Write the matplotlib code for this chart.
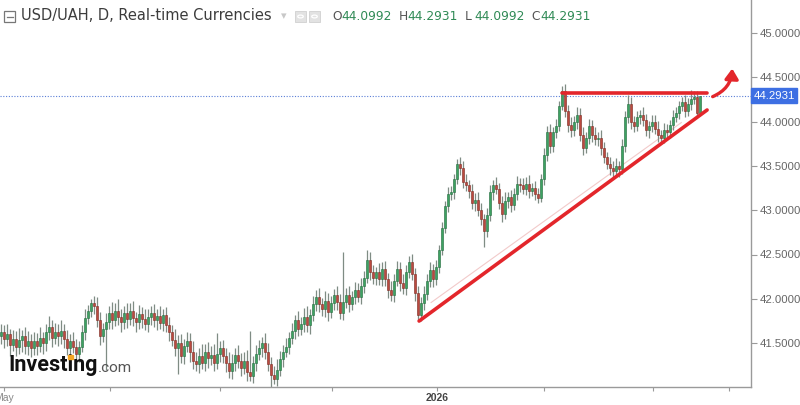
import matplotlib
matplotlib.use("Agg")
import matplotlib.pyplot as plt
from matplotlib.patches import Rectangle, FancyArrowPatch
from matplotlib.transforms import blended_transform_factory
import numpy as np

# ---------------- data ----------------
closes = [
    41.62, 41.55, 41.60, 41.48, 41.55, 41.46, 41.53, 41.58, 41.47, 41.52,
    41.45, 41.52, 41.47, 41.56, 41.50, 41.62, 41.68, 41.56, 41.63, 41.58,
    41.64, 41.55, 41.45, 41.52, 41.46, 41.38, 41.46, 41.62, 41.78, 41.86,
    41.95, 41.92, 41.76, 41.58, 41.66, 41.74, 41.84, 41.76, 41.86, 41.79,
    41.74, 41.84, 41.77, 41.86, 41.78, 41.74, 41.83, 41.77, 41.72, 41.80,
    41.84, 41.76, 41.81, 41.73, 41.82, 41.70, 41.62, 41.54, 41.44, 41.50,
    41.36, 41.47, 41.52, 41.40, 41.30, 41.26, 41.36, 41.28, 41.40, 41.33,
    41.37, 41.28, 41.38, 41.44, 41.36, 41.28, 41.18, 41.28, 41.37, 41.30,
    41.22, 41.30, 41.17, 41.13, 41.28, 41.38, 41.44, 41.50, 41.40, 41.26,
    41.14, 41.10, 41.20, 41.32, 41.40, 41.46, 41.56, 41.64, 41.76, 41.66,
    41.72, 41.80, 41.70, 41.82, 41.94, 42.02, 41.94, 41.88, 41.98, 41.85,
    41.95, 42.04, 41.96, 41.84, 41.96, 42.04, 41.94, 42.02, 42.10, 42.02,
    42.14, 42.24, 42.44, 42.30, 42.24, 42.30, 42.22, 42.34, 42.22, 42.10,
    42.04, 42.20, 42.34, 42.18, 42.12, 42.30, 42.42, 42.28, 42.06, 41.82,
    41.95, 42.05, 42.20, 42.32, 42.22, 42.36, 42.55, 42.80, 43.05, 43.18,
    43.20, 43.35, 43.52, 43.48, 43.32, 43.28, 43.22, 43.08, 43.12, 43.00,
    42.90, 42.76, 42.95, 43.20, 43.28, 43.24, 43.08, 42.96, 43.10, 43.15,
    43.06, 43.18, 43.30, 43.28, 43.24, 43.30, 43.22, 43.25, 43.18, 43.14,
    43.35, 43.62, 43.88, 43.72, 43.88, 43.95, 44.18, 44.34, 44.12, 43.96,
    43.90, 44.00, 44.08, 43.85, 43.70, 43.82, 43.95, 43.85, 43.80, 43.82,
    43.70, 43.60, 43.52, 43.48, 43.44, 43.50, 43.46, 43.72, 44.05, 44.20,
    44.00, 43.95, 44.05, 44.08, 44.02, 43.90, 43.95, 44.00, 43.92, 43.85,
    43.82, 43.90, 43.88, 43.96, 44.05, 44.10, 44.18, 44.22, 44.12, 44.20,
    44.26, 44.28, 44.0992, 44.2931,
]
first_open = 41.58

up_wick = [
    0.10, 0.08, 0.12, 0.06, 0.10, 0.09, 0.14, 0.07, 0.10, 0.12,
    0.08, 0.11, 0.09, 0.12, 0.07, 0.10, 0.13, 0.08, 0.10, 0.09,
    0.12, 0.07, 0.10, 0.08, 0.11, 0.09, 0.06, 0.08, 0.10, 0.07,
    0.05, 0.08, 0.10, 0.09, 0.07, 0.10, 0.08, 0.12, 0.09, 0.14,
    0.10, 0.08, 0.11, 0.09, 0.12, 0.07, 0.10, 0.08, 0.11, 0.09,
    0.08, 0.10, 0.07, 0.11, 0.06, 0.09, 0.10, 0.08, 0.12, 0.09,
    0.10, 0.08, 0.11, 0.09, 0.12, 0.10, 0.08, 0.13, 0.09, 0.11,
    0.10, 0.12, 0.23, 0.08, 0.10, 0.09, 0.12, 0.10, 0.08, 0.11,
    0.09, 0.10, 0.12, 0.47, 0.08, 0.10, 0.09, 0.07, 0.11, 0.10,
    0.08, 0.10, 0.12, 0.09, 0.08, 0.10, 0.07, 0.09, 0.06, 0.10,
    0.08, 0.10, 0.12, 0.07, 0.09, 0.08, 0.10, 0.07, 0.11, 0.09,
    0.08, 0.07, 0.10, 0.09, 0.57, 0.08, 0.10, 0.07, 0.09, 0.08,
    0.10, 0.07, 0.11, 0.09, 0.08, 0.06, 0.10, 0.08, 0.09, 0.07,
    0.10, 0.08, 0.09, 0.07, 0.10, 0.08, 0.06, 0.09, 0.07, 0.08,
    0.07, 0.09, 0.08, 0.10, 0.07, 0.08, 0.06, 0.07, 0.05, 0.08,
    0.07, 0.06, 0.06, 0.08, 0.07, 0.09, 0.06, 0.08, 0.07, 0.09,
    0.08, 0.06, 0.07, 0.08, 0.06, 0.09, 0.07, 0.08, 0.10, 0.06,
    0.08, 0.07, 0.09, 0.06, 0.08, 0.07, 0.10, 0.06, 0.08, 0.07,
    0.06, 0.08, 0.07, 0.09, 0.06, 0.08, 0.05, 0.06, 0.08, 0.07,
    0.09, 0.06, 0.08, 0.07, 0.09, 0.06, 0.08, 0.07, 0.09, 0.06,
    0.08, 0.07, 0.06, 0.08, 0.07, 0.09, 0.06, 0.08, 0.07, 0.10,
    0.08, 0.06, 0.07, 0.05, 0.08, 0.07, 0.06, 0.08, 0.07, 0.09,
    0.06, 0.08, 0.07, 0.06, 0.08, 0.07, 0.05, 0.06, 0.08, 0.07,
    0.10, 0.06, 0.07, 0.00,
]

dn_wick = [
    0.09, 0.11, 0.08, 0.12, 0.07, 0.10, 0.08, 0.13, 0.09, 0.10,
    0.11, 0.08, 0.10, 0.07, 0.12, 0.09, 0.08, 0.10, 0.07, 0.11,
    0.09, 0.10, 0.08, 0.12, 0.07, 0.10, 0.09, 0.06, 0.08, 0.07,
    0.06, 0.09, 0.08, 0.10, 0.07, 0.46, 0.08, 0.10, 0.07, 0.09,
    0.11, 0.08, 0.10, 0.07, 0.09, 0.12, 0.08, 0.10, 0.07, 0.09,
    0.10, 0.08, 0.11, 0.07, 0.09, 0.08, 0.10, 0.07, 0.09, 0.29,
    0.08, 0.10, 0.07, 0.11, 0.09, 0.08, 0.10, 0.07, 0.09, 0.11,
    0.08, 0.10, 0.07, 0.09, 0.08, 0.11, 0.07, 0.09, 0.10, 0.08,
    0.09, 0.07, 0.10, 0.06, 0.08, 0.09, 0.07, 0.10, 0.08, 0.07,
    0.13, 0.06, 0.08, 0.07, 0.09, 0.06, 0.08, 0.07, 0.09, 0.08,
    0.07, 0.09, 0.08, 0.10, 0.07, 0.08, 0.09, 0.07, 0.08, 0.10,
    0.07, 0.08, 0.09, 0.07, 0.08, 0.06, 0.09, 0.07, 0.08, 0.06,
    0.08, 0.07, 0.06, 0.09, 0.07, 0.08, 0.06, 0.07, 0.08, 0.09,
    0.07, 0.08, 0.06, 0.09, 0.07, 0.08, 0.06, 0.07, 0.08, 0.06,
    0.07, 0.08, 0.06, 0.07, 0.09, 0.06, 0.07, 0.05, 0.06, 0.07,
    0.06, 0.07, 0.05, 0.08, 0.07, 0.06, 0.08, 0.07, 0.09, 0.06,
    0.07, 0.18, 0.06, 0.07, 0.08, 0.06, 0.07, 0.09, 0.06, 0.07,
    0.08, 0.06, 0.07, 0.08, 0.06, 0.07, 0.08, 0.06, 0.07, 0.06,
    0.05, 0.06, 0.07, 0.08, 0.06, 0.07, 0.06, 0.05, 0.07, 0.08,
    0.07, 0.06, 0.08, 0.07, 0.08, 0.06, 0.07, 0.08, 0.06, 0.07,
    0.08, 0.07, 0.06, 0.08, 0.07, 0.06, 0.08, 0.05, 0.06, 0.07,
    0.08, 0.07, 0.06, 0.08, 0.07, 0.06, 0.08, 0.07, 0.06, 0.08,
    0.07, 0.06, 0.08, 0.07, 0.06, 0.05, 0.07, 0.06, 0.07, 0.06,
    0.07, 0.06, 0.05, 0.00,
]

y_ticks = [41.5, 42.0, 42.5, 43.0, 43.5, 44.0, 44.5, 45.0]
x_tick_pos = [1, 36.3, 73, 110.3, 145.3, 181, 217.3, 242.7]
x_tick_labels = ["May", "", "", "", "2026", "", "", ""]

last_price = 44.2931
ohlc_text = [("O", "44.0992"), ("H", "44.2931"), ("L", "44.0992"), ("C", "44.2931")]

# trendlines (bar index, price)
support_line = [(139.3, 41.749), (235.3, 44.131)]
resist_line = [(187.0, 44.323), (235.3, 44.323)]
faint_line = [(143.3, 41.958), (226.7, 43.989)]
arrow_pts = [(236.3, 44.27), (243.7, 44.63)]

# ---------------- derived candle arrays ----------------
n = len(closes)
assert len(up_wick) == n and len(dn_wick) == n, (n, len(up_wick), len(dn_wick))
closes_a = np.array(closes)
opens_a = np.concatenate([[first_open], closes_a[:-1]])
highs_a = np.maximum(opens_a, closes_a) + np.array(up_wick)
lows_a = np.minimum(opens_a, closes_a) - np.array(dn_wick)
idx = np.arange(n)

# ---------------- figure ----------------
W, H = 800, 405
fig = plt.figure(figsize=(8.0, 4.05), dpi=100)
fig.patch.set_facecolor("white")

ax_left, ax_right, ax_bottom, ax_top = 0, 751, 387, 0
ax = fig.add_axes([ax_left / W, 1 - ax_bottom / H, (ax_right - ax_left) / W, (ax_bottom - ax_top) / H])
ax.set_facecolor("white")

ymin = 45 - (387 - 33) / 88.6
ymax = 45 + 33 / 88.6
ax.set_ylim(ymin, ymax)
ax.set_xlim(-0.4, (751) / 3.0 - 0.4)

up_c, up_e = "#3da262", "#236b3d"
dn_c, dn_e = "#bb4a3f", "#7c2a22"
wick_c = "#7f8c84"

up = closes_a >= opens_a
ax.vlines(idx, lows_a, highs_a, color=wick_c, linewidth=0.9, zorder=2)
body_bot = np.minimum(opens_a, closes_a)
body_h = np.maximum(np.abs(closes_a - opens_a), 0.006)
ax.bar(idx[up], body_h[up], bottom=body_bot[up], width=0.72, color=up_c,
       edgecolor=up_e, linewidth=0.4, zorder=3)
ax.bar(idx[~up], body_h[~up], bottom=body_bot[~up], width=0.72, color=dn_c,
       edgecolor=dn_e, linewidth=0.4, zorder=3)

# price line
ax.axhline(last_price, color="#5b7fd6", linestyle=(0, (1, 1.5)), linewidth=0.8, zorder=1)

# trendlines
red = "#e3262b"
ax.plot(*zip(*faint_line), color="#f2caca", linewidth=0.8, zorder=1)
ax.plot(*zip(*support_line), color=red, linewidth=2.6, solid_capstyle="round", zorder=5)
ax.plot(*zip(*resist_line), color=red, linewidth=2.6, solid_capstyle="round", zorder=5)
arr = FancyArrowPatch(arrow_pts[0], arrow_pts[1], connectionstyle="arc3,rad=0.35",
                      arrowstyle="-|>,head_length=6,head_width=4", color=red,
                      linewidth=2.4, zorder=6, clip_on=False)
ax.add_patch(arr)

# axes styling
for s in ["top", "left"]:
    ax.spines[s].set_visible(False)
for s in ["right", "bottom"]:
    ax.spines[s].set_color("#9a9a9a")
    ax.spines[s].set_linewidth(1.0)

ax.yaxis.tick_right()
ax.set_yticks(y_ticks)
ax.set_yticklabels([f"{v:.4f}" for v in y_ticks], fontfamily="Liberation Sans",
                   fontsize=8.2, color="#666666")
ax.tick_params(axis="y", direction="out", length=4, color="#9a9a9a", pad=2)

ax.set_xticks(x_tick_pos)
ax.set_xticklabels(x_tick_labels, fontfamily="Liberation Sans", fontsize=7.5, color="#888888")
for lbl in ax.get_xticklabels():
    if lbl.get_text() == "2026":
        lbl.set_color("#444444")
        lbl.set_fontweight("bold")
ax.tick_params(axis="x", direction="out", length=3, color="#9a9a9a", pad=1.5)

# price label on right axis
trans = blended_transform_factory(ax.transAxes, ax.transData)
ax.text(1.003, last_price, f"{last_price:.4f}", transform=trans, ha="left", va="center",
        fontfamily="Liberation Sans", fontsize=8.2, color="white", zorder=10, clip_on=False,
        bbox=dict(boxstyle="square,pad=0.22", fc="#3d6fe3", ec="#3d6fe3"))


def fx(x):
    return x / W


def fy(y):
    return 1 - y / H


# header
fig.add_artist(Rectangle((fx(4), fy(22)), 11 / W, 11 / H, transform=fig.transFigure,
                         fill=False, edgecolor="#777777", linewidth=0.9))
fig.add_artist(plt.Line2D([fx(6.5), fx(12.5)], [fy(16.5), fy(16.5)], transform=fig.transFigure,
                          color="#777777", linewidth=0.9))
fig.text(fx(21), fy(16), "USD/UAH, D, Real-time Currencies", fontfamily="DejaVu Sans",
         fontsize=10.5, color="#3c3c3c", va="center", ha="left")
fig.text(fx(281), fy(16), "\u25be", fontsize=8, color="#c8c8c8", va="center", ha="left")
for x0 in (295, 309):
    fig.add_artist(Rectangle((fx(x0), fy(22)), 11 / W, 11 / H, transform=fig.transFigure,
                             facecolor="#e2e2e2", edgecolor="#d0d0d0", linewidth=0.6))
    fig.add_artist(plt.Circle((fx(x0 + 5.5), fy(16.5)), 2.8 / W, transform=fig.transFigure,
                              fill=False, edgecolor="white", linewidth=0.9))

xpos = 332
for lab, val in ohlc_text:
    fig.text(fx(xpos), fy(16), lab, fontfamily="DejaVu Sans", fontsize=8.8, color="#555555",
             va="center", ha="left")
    fig.text(fx(xpos + 9), fy(16), val, fontfamily="DejaVu Sans", fontsize=8.8, color="#2f8a55",
             va="center", ha="left")
    xpos += 66.5

# Investing.com logo
renderer = fig.canvas.get_renderer()
logo = fig.text(fx(8), fy(365), "Investing", fontfamily="Roboto", fontweight="bold",
                fontsize=15.5, color="#111111", va="center", ha="left", zorder=20)
bb = logo.get_window_extent(renderer)
fig.text(bb.x1 / (fig.dpi * 8.0) + 0.5 / W, fy(368), ".com", fontfamily="Roboto", fontsize=11,
         color="#555555", va="center", ha="left", zorder=20)
# orange dot over the 'i' (measure prefix width)
tmp = fig.text(fx(8), fy(365), "Invest", fontfamily="Roboto", fontweight="bold", fontsize=15.5)
bb_pre = tmp.get_window_extent(renderer)
tmp2 = fig.text(fx(8), fy(365), "i", fontfamily="Roboto", fontweight="bold", fontsize=15.5)
bb_i = tmp2.get_window_extent(renderer)
tmp.remove()
tmp2.remove()
dot_x = (bb_pre.x1 + bb_i.width / 2) / (fig.dpi * 8.0)
fig.add_artist(Rectangle((dot_x - 2.2 / W, fy(359)), 4.4 / W, 3.6 / H, transform=fig.transFigure,
                         color="#f5a623", zorder=21))

fig.savefig("out.png", dpi=100, facecolor="white")
